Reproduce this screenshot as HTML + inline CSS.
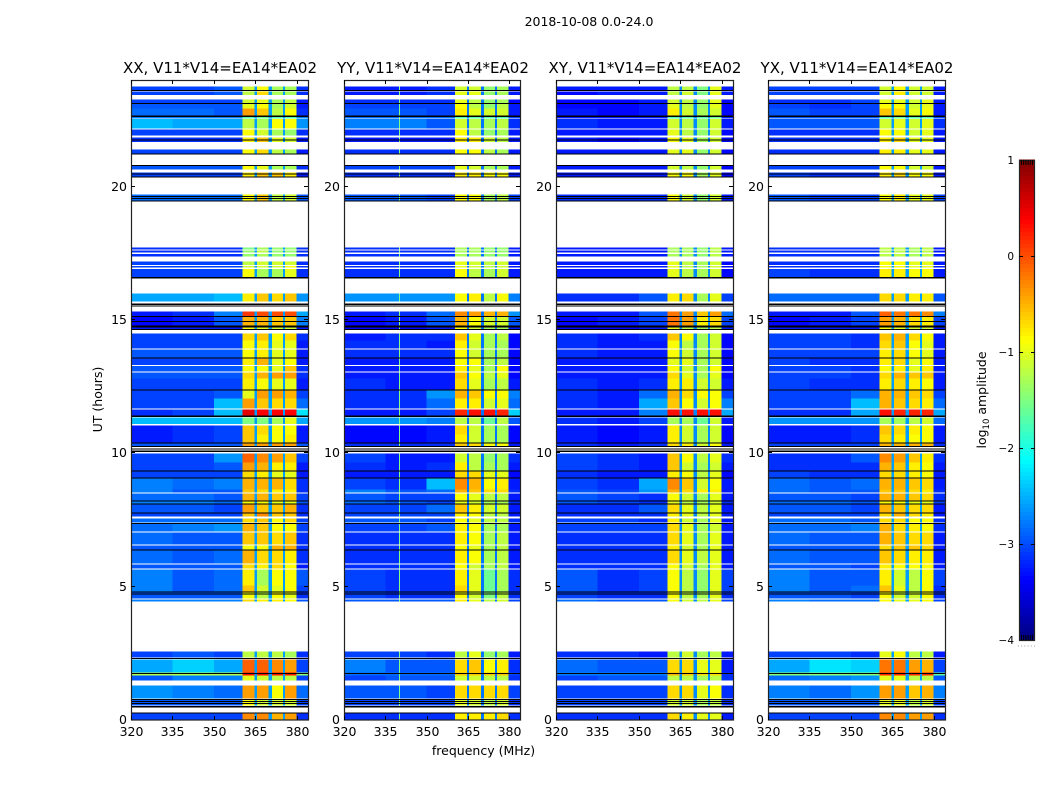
<!DOCTYPE html>
<html>
<head>
<meta charset="utf-8">
<title>2018-10-08 0.0-24.0</title>
<style>
html,body{margin:0;padding:0;background:#fff;width:1050px;height:800px;overflow:hidden}
svg{display:block}
text{font-family:"DejaVu Sans","Liberation Sans",sans-serif;fill:#000}
</style>
</head>
<body>
<svg id="chart" width="1050" height="800" viewBox="0 0 1050 800" xmlns="http://www.w3.org/2000/svg">
  <text x="589" y="26" font-size="12.5" text-anchor="middle">2018-10-08 0.0-24.0</text>
  <text x="220" y="73" font-size="15" text-anchor="middle">XX, V11*V14=EA14*EA02</text>
  <text x="433" y="73" font-size="15" text-anchor="middle">YY, V11*V14=EA14*EA02</text>
  <text x="645" y="73" font-size="15" text-anchor="middle">XY, V11*V14=EA14*EA02</text>
  <text x="857" y="73" font-size="15" text-anchor="middle">YX, V11*V14=EA14*EA02</text>
  <text transform="translate(102,399.5) rotate(-90)" font-size="12.5" text-anchor="middle">UT (hours)</text>
  <text x="483.5" y="755" font-size="12.5" text-anchor="middle">frequency (MHz)</text>
  <text transform="translate(986,400) rotate(-90)" font-size="12.5" text-anchor="middle">log<tspan font-size="8.5" dy="3">10</tspan><tspan dy="-3"> amplitude</tspan></text>
</svg>
<script>
// ---- data ----
const freqEdges = [320,335,350,360.4,364.7,365.5,369.8,370.9,374.9,375.6,379.9,384];
const gapLevels = [-2.6,-2.8,-2.7,-2.6];
const backgroundCalibration = -0.25;
const xTickValues = [320,335,350,365,380];
const yTickValues = [0,5,10,15,20];
const colorbarTicks = [1,0,-1,-2,-3,-4];
const colorbarTickLabels = ['1','0','\u22121','\u22122','\u22123','\u22124'];
const rfiFreq = [340];
const rfiLevel = [-1.5];
const rowTop = [23.76,23.57,23.27,23.12,22.93,22.63,22.54,22.14,21.84,21.39,20.79,20.53,19.71,17.72,17.61,17.48,17.19,17.03,16.91,16.00,15.32,15.11,14.72,14.49,14.23,13.89,13.56,13.28,13.03,12.81,12.36,12.06,11.65,11.35,11.04,10.71,10.37,9.99,9.66,9.32,9.06,8.65,8.49,8.20,8.08,7.75,7.56,7.37,7.03,6.55,6.36,5.83,5.65,5.05,4.78,4.52,2.57,2.27,1.78,1.67,1.29,0.77,0.25];
const rowBottom = [23.60,23.44,23.12,22.93,22.63,22.56,22.18,21.92,21.67,21.22,20.64,20.36,19.46,17.64,17.53,17.39,17.07,16.96,16.61,15.69,15.13,14.79,14.62,14.23,13.93,13.59,13.31,13.07,12.81,12.39,12.06,11.68,11.38,11.10,10.71,10.39,10.25,9.66,9.36,9.10,8.65,8.53,8.23,8.10,7.78,7.64,7.41,7.07,6.58,6.40,5.87,5.68,5.05,4.82,4.56,4.45,2.35,1.78,1.67,1.48,0.80,0.54,0.0];
const flaggedStart = [23.58,23.10,22.62,21.73,21.20,20.79,20.45,20.34,19.62,19.53,19.44,16.55,15.56,15.50,15.12,14.92,14.72,14.63,13.55,12.36,11.36,10.36,10.25,10.14,10.05,9.32,9.06,8.20,8.08,7.75,7.36,6.36,4.78,4.70,2.29,1.72,0.76,0.69,0.61,0.47,0.26];
const flaggedEnd = [23.62,23.13,22.66,21.77,21.24,20.82,20.49,20.38,19.65,19.57,19.48,16.61,15.61,15.54,15.15,14.96,14.79,14.66,13.60,12.40,11.41,10.40,10.27,10.18,10.10,9.35,9.09,8.24,8.11,7.78,7.39,6.40,4.81,4.74,2.33,1.77,0.78,0.71,0.63,0.52,0.29];
// each row: 320-335, 335-350, 350-360, window1..window4, 380-384 (log10 amplitude)
const xxValues = [
[-2.8,-2.8,-2.7,-1.1,-0.9,-1.3,-1.3,-2.9],[-2.8,-2.8,-2.7,-1.2,-0.7,-1.3,-1.3,-2.9],[-2.8,-2.8,-2.8,-1.1,-1.0,-1.3,-1.2,-3.0],[-2.7,-2.7,-2.7,-1.0,-0.9,-1.3,-1.1,-3.0],
[-2.6,-2.6,-2.7,-0.4,-0.6,-1.2,-0.9,-2.9],[-2.5,-2.5,-2.5,-1.7,-1.6,-1.7,-1.7,-2.5],[-2.2,-2.3,-2.3,-1.2,-1.3,-0.9,-0.9,-2.4],[-2.8,-2.8,-2.8,-0.9,-1.1,-1.3,-1.4,-2.9],
[-2.9,-2.9,-2.9,-0.8,-0.6,-1.0,-1.1,-3.0],[-2.8,-2.8,-2.8,-0.9,-0.7,-1.2,-1.3,-3.0],[-2.7,-2.7,-2.7,-0.9,-1.0,-1.3,-1.3,-2.9],[-2.8,-2.8,-2.8,-0.8,-0.6,-0.6,-0.8,-3.0],
[-2.6,-2.6,-2.6,-0.9,-0.6,-1.2,-1.1,-2.7],[-2.9,-2.9,-2.9,-1.5,-1.3,-1.4,-1.4,-2.9],[-2.9,-2.9,-2.9,-1.4,-1.2,-1.4,-1.4,-2.9],[-2.9,-2.9,-2.9,-1.4,-1.3,-1.4,-1.4,-2.9],
[-2.8,-2.8,-2.8,-1.2,-1.1,-1.1,-1.1,-2.9],[-2.8,-2.8,-2.8,-1.1,-1.1,-1.1,-0.9,-2.9],[-2.8,-2.8,-2.8,-0.9,-1.3,-1.3,-1.0,-2.9],[-2.3,-2.3,-2.2,-0.8,-0.6,-0.7,-0.6,-2.4],
[-3.0,-2.9,-2.5,0.1,0.0,0.0,0.0,-2.3],[-3.1,-3.0,-2.7,-0.5,-0.5,-0.6,-0.6,-2.5],[-3.0,-3.0,-3.0,-0.9,-1.0,-1.1,-1.1,-3.0],[-2.8,-2.8,-2.8,-0.7,-0.6,-0.9,-0.7,-2.9],
[-2.8,-2.8,-2.8,-0.9,-0.8,-1.0,-1.0,-3.0],[-2.7,-2.7,-2.7,-0.9,-0.8,-1.0,-1.0,-3.0],[-2.8,-2.8,-2.8,-0.8,-0.5,-1.0,-0.9,-3.0],[-2.7,-2.7,-2.7,-0.9,-0.9,-1.0,-0.6,-2.9],
[-2.7,-2.7,-2.7,-0.7,-0.5,-0.4,-0.4,-2.9],[-2.8,-2.8,-2.8,-0.8,-0.9,-1.0,-1.0,-3.0],[-2.8,-2.8,-2.7,-1.0,-0.4,-0.4,-0.5,-2.8],[-2.8,-2.8,-2.2,-0.4,-0.6,-0.7,-0.7,-2.6],
[-2.9,-2.8,-2.2,0.5,0.4,0.4,0.4,-2.0],[-2.2,-2.2,-2.2,-1.5,-1.5,-1.3,-1.0,-2.3],[-3.0,-2.9,-2.8,-0.6,-0.7,-0.9,-0.9,-3.0],[-3.0,-2.9,-2.8,-0.6,-0.8,-0.9,-0.8,-3.0],
[-2.7,-2.7,-2.7,-0.4,-0.4,-0.4,-0.4,-2.7],[-2.8,-2.8,-2.4,-0.1,-0.3,-0.4,-0.6,-2.8],[-2.8,-2.8,-2.7,-0.4,-0.5,-0.8,-0.8,-3.0],[-2.8,-2.8,-2.8,-0.7,-0.8,-1.0,-1.0,-3.0],
[-2.5,-2.6,-2.5,-0.5,-0.5,-0.5,-0.7,-2.9],[-2.5,-2.7,-2.7,-0.6,-0.7,-0.8,-0.8,-2.9],[-2.6,-2.6,-2.7,-0.5,-0.5,-0.6,-0.6,-2.8],[-2.5,-2.5,-2.6,-0.9,-0.9,-1.0,-1.0,-2.7],
[-2.7,-2.7,-2.8,-0.4,-0.6,-0.6,-0.5,-2.9],[-2.8,-2.8,-2.8,-0.6,-0.3,-0.6,-0.6,-2.9],[-2.6,-2.6,-2.6,-0.7,-0.6,-0.9,-0.7,-2.8],[-2.6,-2.5,-2.4,-0.5,-0.6,-0.9,-0.9,-2.8],
[-2.6,-2.7,-2.7,-0.6,-0.6,-0.7,-0.6,-2.9],[-2.7,-2.7,-2.7,-0.9,-0.9,-0.5,-0.5,-2.9],[-2.6,-2.7,-2.6,-0.5,-0.7,-0.7,-0.8,-2.9],[-2.7,-2.7,-2.7,-0.7,-0.8,-0.7,-0.9,-3.0],
[-2.5,-2.7,-2.6,-0.8,-1.3,-0.9,-0.9,-2.7],[-2.5,-2.7,-2.6,-0.6,-1.1,-1.0,-0.9,-2.8],[-2.7,-2.7,-2.7,-0.9,-1.2,-0.9,-1.0,-2.9],[-2.5,-2.5,-2.5,-0.7,-0.8,-0.8,-0.9,-2.7],
[-2.8,-2.7,-2.8,-1.2,-1.2,-1.2,-1.3,-2.9],[-2.3,-2.1,-2.3,-0.1,-0.1,-0.3,-0.4,-2.8],[-1.0,-1.0,-1.0,0.3,0.3,0.3,0.3,-1.2],[-2.7,-2.5,-2.5,-1.0,-1.1,-1.2,-1.2,-2.8],
[-2.4,-2.5,-2.6,-0.4,-0.4,-0.9,-0.4,-2.6],[-2.7,-2.7,-2.7,-0.9,-1.1,-1.1,-1.1,-2.8],[-2.8,-2.8,-2.8,-0.3,-0.3,-0.5,-0.4,-2.9]];
const yyValues = [
[-3.0,-3.0,-2.9,-1.1,-1.1,-1.4,-1.3,-3.0],[-3.0,-3.0,-2.9,-1.0,-1.0,-1.4,-1.3,-3.0],[-2.9,-2.9,-2.9,-1.0,-1.2,-1.4,-1.3,-3.1],[-2.8,-2.8,-2.8,-0.9,-1.2,-1.4,-1.2,-3.0],
[-2.7,-2.7,-2.8,-0.8,-1.0,-1.1,-1.1,-3.0],[-2.6,-2.6,-2.6,-1.7,-1.7,-1.7,-1.7,-2.8],[-2.5,-2.5,-2.7,-1.1,-1.2,-1.3,-1.2,-2.9],[-2.9,-2.9,-2.9,-0.9,-1.2,-1.4,-1.3,-3.0],
[-3.0,-3.0,-3.0,-0.8,-0.8,-1.1,-1.2,-3.0],[-2.9,-2.9,-2.9,-0.9,-0.9,-1.2,-1.3,-3.0],[-2.8,-2.8,-2.8,-1.0,-1.1,-1.3,-1.3,-3.0],[-2.9,-2.9,-2.9,-0.8,-0.8,-0.9,-0.9,-3.0],
[-2.7,-2.7,-2.8,-0.9,-0.9,-1.3,-1.2,-2.8],[-2.9,-2.9,-2.9,-1.3,-1.3,-1.4,-1.4,-3.0],[-2.9,-2.9,-2.9,-1.3,-1.3,-1.4,-1.4,-3.0],[-2.9,-2.9,-2.9,-1.3,-1.3,-1.4,-1.4,-3.0],
[-2.9,-2.9,-2.9,-1.0,-1.1,-1.2,-1.1,-3.0],[-2.9,-2.9,-2.9,-1.0,-1.1,-1.2,-1.1,-3.0],[-2.9,-2.9,-2.9,-0.9,-1.2,-1.3,-1.1,-3.0],[-2.4,-2.4,-2.4,-0.9,-0.8,-1.2,-0.9,-2.5],
[-3.0,-2.9,-2.6,-0.3,-0.4,-0.5,-0.5,-2.4],[-3.1,-3.0,-2.7,-0.5,-0.9,-1.1,-1.1,-2.7],[-3.1,-3.1,-3.0,-0.9,-1.1,-1.3,-1.3,-3.0],[-3.0,-2.9,-2.9,-0.6,-1.0,-1.3,-1.2,-3.1],
[-2.9,-2.9,-3.0,-0.8,-1.1,-1.3,-1.3,-3.1],[-2.9,-2.9,-2.9,-0.9,-1.1,-1.3,-1.3,-3.1],[-3.0,-3.0,-3.0,-0.9,-0.9,-1.3,-1.2,-3.1],[-3.0,-3.0,-3.0,-0.8,-1.0,-1.3,-0.9,-3.1],
[-3.0,-3.0,-3.0,-0.6,-0.9,-1.2,-1.0,-3.1],[-2.9,-3.0,-3.0,-0.7,-1.0,-1.3,-1.2,-3.0],[-2.9,-2.9,-2.4,-0.5,-0.6,-0.9,-0.9,-2.5],[-2.9,-2.9,-2.6,-0.8,-0.8,-1.1,-1.0,-2.6],
[-3.0,-3.0,-2.8,0.2,0.3,0.3,0.2,-2.1],[-2.4,-2.4,-2.5,-1.2,-1.2,-1.6,-1.2,-2.7],[-3.1,-3.1,-3.0,-0.7,-1.1,-1.3,-1.3,-3.1],[-3.1,-3.1,-3.0,-0.8,-1.1,-1.3,-1.3,-3.1],
[-2.9,-2.9,-2.9,-0.6,-0.7,-0.9,-0.9,-3.0],[-2.8,-3.0,-3.0,-1.1,-1.2,-1.4,-1.3,-2.9],[-2.9,-3.0,-2.9,-0.8,-1.2,-1.3,-1.3,-3.0],[-3.0,-3.0,-3.0,-0.7,-0.7,-1.0,-1.0,-3.1],
[-2.8,-2.9,-2.2,-0.3,-0.5,-0.9,-0.8,-3.0],[-2.5,-2.7,-2.6,-0.5,-0.6,-0.7,-0.7,-2.9],[-2.7,-2.8,-2.8,-0.9,-1.0,-1.2,-1.2,-3.0],[-2.6,-2.7,-2.8,-1.0,-1.1,-1.3,-1.3,-2.9],
[-2.8,-2.8,-2.6,-0.6,-0.8,-1.1,-1.1,-3.0],[-2.8,-2.8,-2.8,-0.8,-0.9,-1.2,-1.2,-3.0],[-2.7,-2.7,-2.8,-0.9,-1.0,-1.2,-1.2,-2.9],[-2.8,-2.8,-2.7,-0.8,-0.9,-1.3,-1.3,-3.0],
[-2.9,-2.9,-2.9,-0.8,-0.9,-1.3,-1.2,-3.0],[-2.9,-2.9,-2.9,-0.9,-1.0,-1.3,-1.2,-3.0],[-2.9,-2.9,-2.9,-0.8,-0.9,-1.3,-1.2,-3.0],[-2.9,-2.9,-2.9,-0.9,-1.1,-1.3,-1.2,-3.0],
[-2.8,-2.9,-2.9,-0.8,-1.0,-1.6,-1.3,-2.9],[-2.8,-2.9,-2.9,-0.7,-1.0,-1.6,-1.3,-2.9],[-2.8,-2.9,-2.9,-0.9,-1.1,-1.5,-1.2,-2.9],[-2.7,-2.7,-2.7,-0.8,-1.0,-1.2,-1.1,-2.8],
[-2.8,-2.8,-2.9,-1.2,-1.0,-1.4,-1.3,-3.0],[-2.5,-2.7,-2.7,-0.7,-0.6,-0.9,-0.8,-2.9],[-2.6,-2.6,-2.6,-0.6,-0.6,-0.6,-0.6,-2.8],[-2.8,-2.7,-2.7,-1.1,-1.1,-1.2,-1.2,-2.9],
[-2.7,-2.7,-2.8,-0.7,-0.7,-0.7,-0.7,-2.8],[-2.8,-2.8,-2.8,-1.0,-1.1,-1.2,-1.1,-2.9],[-2.9,-2.9,-2.9,-0.8,-0.8,-0.8,-0.7,-2.9]];
const xyValues = [
[-3.0,-3.0,-3.0,-1.2,-1.2,-1.5,-1.0,-3.0],[-3.1,-3.0,-3.0,-1.2,-1.1,-1.5,-1.0,-3.0],[-3.1,-3.1,-3.0,-1.1,-1.2,-1.4,-1.0,-3.1],[-3.1,-3.1,-3.0,-1.0,-1.2,-1.4,-1.0,-3.1],
[-3.0,-3.1,-3.0,-0.8,-1.1,-1.3,-1.1,-3.1],[-3.0,-3.0,-3.0,-1.7,-1.7,-1.7,-1.6,-3.0],[-2.9,-3.0,-3.0,-1.1,-1.2,-1.4,-1.1,-3.0],[-3.0,-3.0,-3.0,-1.0,-1.2,-1.4,-1.1,-3.1],
[-3.0,-3.1,-3.0,-0.9,-1.0,-1.3,-1.1,-3.1],[-3.0,-3.0,-3.0,-1.0,-1.0,-1.4,-1.1,-3.1],[-3.0,-3.0,-3.0,-1.1,-1.2,-1.4,-1.1,-3.1],[-3.0,-3.0,-3.0,-0.9,-0.9,-1.3,-1.0,-3.1],
[-2.9,-2.9,-2.9,-0.9,-1.1,-1.4,-1.1,-3.0],[-3.0,-3.0,-3.0,-1.3,-1.3,-1.4,-1.2,-3.0],[-3.0,-3.0,-3.0,-1.3,-1.3,-1.4,-1.2,-3.0],[-3.0,-3.0,-3.0,-1.3,-1.3,-1.4,-1.2,-3.0],
[-3.0,-3.0,-3.0,-1.0,-1.2,-1.3,-1.1,-3.1],[-3.0,-3.0,-3.0,-1.0,-1.2,-1.3,-1.1,-3.1],[-3.0,-3.0,-3.0,-1.0,-1.2,-1.3,-1.1,-3.1],[-2.9,-2.9,-2.7,-0.8,-0.7,-1.3,-1.0,-2.8],
[-3.0,-3.0,-2.7,-0.2,-0.4,-0.6,-0.4,-2.6],[-3.1,-3.0,-2.8,-0.2,-0.4,-0.8,-0.7,-2.8],[-3.1,-3.1,-3.0,-1.0,-1.2,-1.3,-1.2,-3.0],[-2.9,-3.0,-2.9,-0.6,-0.9,-1.3,-1.1,-3.1],
[-2.9,-3.0,-3.0,-0.9,-1.2,-1.3,-1.1,-3.1],[-2.9,-3.0,-3.0,-0.9,-1.1,-1.3,-1.1,-3.1],[-3.0,-3.0,-3.0,-1.0,-1.0,-1.3,-1.1,-3.1],[-3.0,-3.0,-3.0,-0.9,-1.1,-1.3,-0.9,-3.1],
[-3.0,-3.0,-3.0,-0.7,-1.0,-1.3,-1.0,-3.1],[-2.9,-3.0,-2.9,-0.8,-0.8,-1.1,-1.1,-3.0],[-2.9,-3.0,-2.6,-0.5,-0.7,-0.9,-0.9,-2.8],[-2.9,-3.0,-2.3,-0.6,-0.9,-1.1,-0.9,-2.5],
[-3.0,-3.0,-2.5,0.3,0.3,0.3,0.3,-2.3],[-2.9,-3.0,-2.8,-1.3,-1.3,-1.6,-1.1,-3.0],[-3.0,-3.1,-3.0,-0.8,-1.1,-1.3,-1.1,-3.1],[-3.0,-3.1,-3.0,-0.8,-1.1,-1.3,-1.1,-3.1],
[-2.9,-3.0,-2.9,-0.7,-0.8,-1.1,-0.9,-3.0],[-2.8,-2.9,-3.0,-0.6,-0.9,-1.2,-1.0,-2.9],[-2.8,-2.9,-3.0,-0.6,-1.1,-1.3,-1.1,-3.0],[-2.9,-3.0,-3.0,-0.8,-0.9,-1.2,-1.0,-3.1],
[-2.8,-2.9,-2.3,-0.3,-0.6,-1.1,-0.9,-3.0],[-2.7,-2.8,-2.4,-0.5,-0.7,-0.8,-0.8,-3.0],[-2.7,-2.8,-2.9,-0.9,-1.1,-1.3,-1.0,-3.0],[-2.7,-2.8,-2.9,-1.0,-1.2,-1.3,-1.1,-2.9],
[-2.9,-2.9,-2.7,-0.7,-1.0,-1.2,-1.0,-3.0],[-2.9,-2.9,-2.9,-0.8,-1.0,-1.2,-1.0,-3.0],[-2.8,-2.8,-2.9,-0.8,-1.1,-1.3,-1.0,-3.0],[-2.8,-2.8,-2.8,-0.7,-1.0,-1.3,-1.1,-3.0],
[-2.9,-2.9,-2.9,-0.7,-1.0,-1.3,-1.0,-3.0],[-2.9,-2.9,-2.9,-0.8,-1.1,-1.3,-1.0,-3.0],[-2.9,-2.9,-2.9,-0.7,-1.0,-1.2,-1.0,-3.0],[-2.9,-2.9,-2.9,-0.9,-1.1,-1.3,-1.0,-3.0],
[-2.7,-2.9,-2.8,-0.9,-1.2,-1.4,-1.0,-2.8],[-2.7,-2.9,-2.8,-0.9,-1.2,-1.4,-1.0,-2.8],[-2.8,-2.9,-2.9,-0.9,-1.2,-1.3,-1.0,-2.9],[-2.6,-2.7,-2.7,-0.9,-1.1,-1.2,-1.0,-2.8],
[-2.9,-2.9,-3.0,-1.2,-1.1,-1.3,-1.2,-3.0],[-2.6,-2.7,-2.7,-0.7,-0.7,-1.0,-1.0,-3.0],[-2.5,-2.5,-2.5,-0.5,-0.6,-0.7,-0.7,-2.9],[-2.8,-2.7,-2.7,-1.2,-1.2,-1.3,-1.2,-2.9],
[-2.8,-2.8,-2.8,-0.7,-0.7,-1.0,-0.9,-2.9],[-2.8,-2.8,-2.8,-1.1,-1.1,-1.3,-1.2,-2.9],[-2.9,-2.9,-2.9,-0.7,-0.8,-1.0,-1.0,-3.0]];
const yxValues = [
[-2.8,-2.8,-2.8,-1.1,-0.9,-1.1,-1.1,-3.0],[-2.8,-2.8,-2.8,-1.1,-0.8,-1.1,-1.1,-3.0],[-2.9,-2.9,-2.8,-1.0,-1.0,-1.1,-1.0,-3.0],[-2.8,-2.9,-2.8,-0.9,-0.9,-1.1,-1.0,-3.0],
[-2.7,-2.8,-2.8,-0.6,-0.7,-1.0,-0.9,-3.0],[-2.7,-2.7,-2.7,-1.7,-1.6,-1.7,-1.7,-2.8],[-2.7,-2.7,-2.7,-1.1,-1.0,-1.1,-1.0,-2.9],[-2.9,-2.9,-2.9,-0.9,-0.9,-1.1,-1.0,-3.0],
[-2.9,-2.9,-2.9,-0.8,-0.7,-1.0,-1.0,-3.0],[-2.9,-2.9,-2.9,-0.8,-0.8,-1.0,-1.0,-3.0],[-2.8,-2.8,-2.8,-0.9,-0.9,-1.1,-1.1,-3.0],[-2.8,-2.9,-2.9,-0.8,-0.7,-0.9,-0.9,-3.0],
[-2.7,-2.8,-2.8,-0.9,-0.8,-1.0,-1.0,-2.8],[-2.9,-2.9,-2.9,-1.2,-1.2,-1.3,-1.2,-3.0],[-2.9,-2.9,-2.9,-1.2,-1.2,-1.3,-1.2,-3.0],[-2.9,-2.9,-2.9,-1.2,-1.2,-1.3,-1.2,-3.0],
[-2.9,-2.9,-2.9,-0.9,-0.9,-1.0,-1.0,-3.0],[-2.9,-2.9,-2.9,-0.9,-0.9,-1.0,-1.0,-3.0],[-2.8,-2.9,-2.9,-0.8,-0.8,-0.9,-0.9,-3.0],[-2.6,-2.6,-2.6,-0.7,-0.7,-0.8,-0.8,-2.7],
[-3.0,-3.0,-2.7,-0.1,-0.2,-0.2,-0.3,-2.5],[-3.1,-3.0,-2.8,-0.4,-0.5,-0.7,-0.8,-2.8],[-3.0,-3.0,-3.0,-0.9,-1.0,-1.1,-1.1,-3.0],[-2.8,-2.8,-2.9,-0.6,-0.5,-0.7,-0.9,-3.0],
[-2.8,-2.8,-2.9,-0.7,-0.6,-0.9,-1.0,-3.0],[-2.8,-2.8,-2.8,-0.8,-0.7,-0.9,-1.0,-3.0],[-2.8,-2.9,-2.9,-0.8,-0.7,-1.0,-0.9,-3.0],[-2.8,-2.8,-2.9,-0.9,-0.8,-1.0,-0.8,-3.0],
[-2.8,-2.8,-2.9,-0.7,-0.5,-0.6,-0.6,-3.0],[-2.8,-2.9,-2.9,-0.8,-0.7,-0.8,-0.9,-3.0],[-2.8,-2.8,-2.6,-0.5,-0.5,-0.6,-0.7,-2.8],[-2.8,-2.8,-2.2,-0.5,-0.6,-0.7,-0.8,-2.6],
[-2.9,-2.9,-2.3,0.3,0.2,0.2,0.2,-2.3],[-2.4,-2.4,-2.4,-1.3,-1.3,-1.2,-1.1,-2.6],[-3.0,-3.0,-2.9,-0.6,-0.7,-0.8,-0.9,-3.0],[-3.0,-3.0,-2.9,-0.7,-0.8,-0.9,-0.9,-3.0],
[-2.8,-2.8,-2.8,-0.5,-0.5,-0.5,-0.5,-2.9],[-2.9,-2.9,-2.7,-0.3,-0.4,-0.6,-0.8,-2.9],[-2.9,-2.9,-2.9,-0.5,-0.6,-0.8,-0.9,-3.0],[-2.8,-2.9,-2.9,-0.7,-0.7,-0.8,-0.9,-3.0],
[-2.6,-2.7,-2.6,-0.5,-0.5,-0.6,-0.7,-3.0],[-2.6,-2.7,-2.7,-0.6,-0.6,-0.7,-0.8,-2.9],[-2.7,-2.7,-2.8,-0.5,-0.5,-0.6,-0.7,-2.9],[-2.6,-2.6,-2.7,-0.9,-0.9,-1.0,-1.0,-2.8],
[-2.7,-2.7,-2.8,-0.5,-0.6,-0.7,-0.7,-3.0],[-2.8,-2.8,-2.8,-0.7,-0.5,-0.7,-0.8,-3.0],[-2.6,-2.6,-2.7,-0.7,-0.7,-0.9,-0.9,-2.9],[-2.6,-2.6,-2.5,-0.5,-0.7,-0.8,-0.9,-2.9],
[-2.6,-2.7,-2.7,-0.5,-0.6,-0.7,-0.7,-3.0],[-2.7,-2.7,-2.7,-0.7,-0.6,-0.6,-0.7,-3.0],[-2.6,-2.7,-2.7,-0.6,-0.7,-0.8,-0.8,-3.0],[-2.7,-2.7,-2.8,-0.8,-0.9,-0.9,-0.9,-3.0],
[-2.5,-2.7,-2.7,-0.8,-1.1,-1.2,-0.9,-2.8],[-2.5,-2.7,-2.6,-0.6,-1.0,-1.2,-0.9,-2.9],[-2.7,-2.7,-2.8,-0.9,-1.1,-1.1,-0.9,-2.9],[-2.5,-2.6,-2.6,-0.9,-1.0,-1.0,-0.9,-2.8],
[-2.8,-2.8,-2.9,-1.0,-0.9,-1.2,-1.2,-3.0],[-2.3,-2.0,-2.1,-0.2,-0.2,-0.4,-0.5,-2.8],[-1.2,-1.2,-1.2,0.2,0.2,0.2,0.2,-1.4],[-2.6,-2.5,-2.4,-1.0,-1.0,-1.2,-1.2,-2.7],
[-2.5,-2.6,-2.4,-0.4,-0.4,-0.6,-0.5,-2.5],[-2.7,-2.7,-2.7,-1.0,-1.0,-1.2,-1.1,-2.8],[-2.8,-2.8,-2.8,-0.3,-0.3,-0.4,-0.4,-2.9]];
const panelNames = ['xx','yy','xy','yx'];
const panelValues = [xxValues,yyValues,xyValues,yxValues];

// ---- layout ----
const SVGNS = 'http://www.w3.org/2000/svg';
const svg = document.getElementById('chart');
const panelLeft = [131,344,556,768];
const panelWidths = [177,176,177,177];
const plotTop = 80;
const plotBottom = 720;
const xScale = (left, width, mhz) => left + (mhz - 320) / (384 - 320) * width;
const yScale = hour => plotBottom - hour / 24 * (plotBottom - plotTop);
const cbTop = 160, cbBottom = 640, cbLeft = 1019, cbRight = 1034;
const cbScale = v => cbBottom - (v + 4) / 5 * (cbBottom - cbTop);

function jet(v){
  const t = Math.max(0, Math.min(1, (v + 4) / 5));
  const ramp = (x) => Math.max(0, Math.min(1, x));
  const r = ramp(Math.min(4 * t - 1.5, -4 * t + 4.5));
  const g = ramp(Math.min(4 * t - 0.5, -4 * t + 3.5));
  const b = ramp(Math.min(4 * t + 0.5, -4 * t + 2.5));
  return 'rgb(' + Math.round(r * 255) + ',' + Math.round(g * 255) + ',' + Math.round(b * 255) + ')';
}
function shape(tag, attrs){
  const el = document.createElementNS(SVGNS, tag);
  for (const k in attrs) el.setAttribute(k, attrs[k]);
  svg.appendChild(el);
  return el;
}
function tickLine(x1, y1, x2, y2){
  const el = shape('line', {x1:x1, y1:y1, x2:x2, y2:y2, stroke:'#000', 'stroke-width':1});
  
  
  return el;
}
function label(x, y, str, anchor, size){
  const el = shape('text', {x:x, y:y, 'font-size':size, 'text-anchor':anchor});
  el.textContent = str;
  
  
  return el;
}

panelValues.forEach((values, p) => {
  const left = panelLeft[p];
  const panelWidth = panelWidths[p];
  const group = document.createElementNS(SVGNS, 'g');
  
  
  group.setAttribute('shape-rendering', 'crispEdges');
  svg.appendChild(group);
  values.forEach((row, r) => {
    const y0 = yScale(rowTop[r]);
    const y1 = yScale(rowBottom[r]);
    const bg = backgroundCalibration;
    const cols = [row[0]+bg,row[1]+bg,row[2]+bg,row[3],gapLevels[p],row[4],gapLevels[p],row[5],gapLevels[p],row[6],row[7]+bg];
    cols.forEach((v, c) => {
      const x0 = xScale(left, panelWidth, freqEdges[c]);
      const x1 = xScale(left, panelWidth, freqEdges[c + 1]);
      const cell = document.createElementNS(SVGNS, 'rect');
      cell.setAttribute('x', x0.toFixed(2));
      cell.setAttribute('y', y0.toFixed(2));
      cell.setAttribute('width', (x1 - x0).toFixed(2));
      cell.setAttribute('height', (y1 - y0).toFixed(2));
      cell.setAttribute('fill', jet(v));
      
      
      group.appendChild(cell);
    });
    if (p === 1) {
      const x = xScale(left, panelWidth, rfiFreq[0]);
      const line = document.createElementNS(SVGNS, 'rect');
      line.setAttribute('x', x.toFixed(2));
      line.setAttribute('y', y0.toFixed(2));
      line.setAttribute('width', 1);
      line.setAttribute('height', (y1 - y0).toFixed(2));
      line.setAttribute('fill', jet(rfiLevel[0]));
      
      
      group.appendChild(line);
    }
  });
  flaggedStart.forEach((h, i) => {
    const y0 = yScale(flaggedEnd[i]);
    const y1 = yScale(h);
    const bar = document.createElementNS(SVGNS, 'rect');
    bar.setAttribute('x', left);
    bar.setAttribute('y', y0.toFixed(2));
    bar.setAttribute('width', panelWidth);
    bar.setAttribute('height', Math.max(1, y1 - y0).toFixed(2));
    bar.setAttribute('fill', '#000');
    
    
    group.appendChild(bar);
  });
  const frame = shape('rect', {x:left + .5, y:plotTop + .5, width:panelWidth, height:plotBottom - plotTop - .5, fill:'none', stroke:'#222', 'stroke-width':1.2});
  
  
  xTickValues.forEach(v => {
    const x = Math.round(xScale(left, panelWidth, v)) + .5;
    tickLine(x, plotBottom, x, plotBottom - 4);
    tickLine(x, plotTop, x, plotTop + 4);
    label(x, plotBottom + 16, String(v), 'middle', 12.5);
  });
  yTickValues.forEach(v => {
    const y = Math.round(yScale(v)) - .5;
    if (v !== 0) {
      tickLine(left, y, left + 4, y);
      tickLine(left + panelWidth, y, left + panelWidth - 4, y);
    }
    label(left - 4, y + 4.5, String(v), 'end', 12.5);
  });
});

// ---- colorbar ----
const cbGroup = document.createElementNS(SVGNS, 'g');


cbGroup.setAttribute('shape-rendering', 'crispEdges');
svg.appendChild(cbGroup);
for (let i = 0; i < 120; i++) {
  const v = -4 + (i + .5) / 120 * 5;
  const step = document.createElementNS(SVGNS, 'rect');
  step.setAttribute('x', cbLeft);
  step.setAttribute('y', (cbScale(v) - 2.5).toFixed(2));
  step.setAttribute('width', cbRight - cbLeft + 1);
  step.setAttribute('height', 4.5);
  step.setAttribute('fill', jet(v));
  
  
  cbGroup.appendChild(step);
}
const cbFrame = shape('rect', {x:cbLeft + .5, y:cbTop + .5, width:cbRight - cbLeft, height:cbBottom - cbTop, fill:'none', stroke:'#222', 'stroke-width':1.2});


colorbarTicks.forEach((v, i) => {
  const y = Math.round(cbScale(v)) + .5;
  if (v !== 1 && v !== -4) {
    tickLine(cbLeft, y, cbLeft + 4, y);
    tickLine(cbRight + 1, y, cbRight - 3, y);
  }
  label(1014, y + 3.5, colorbarTickLabels[i], 'end', 10.5);
});
for (let i = 0; i < 6; i++) {
  const x = cbLeft + 2.5 + i * 2.2;
  tickLine(x, cbTop, x, cbTop + 5);
  tickLine(x, cbBottom, x, cbBottom - 5);
  const dot = shape('rect', {x:cbLeft - 1 + i * 3.2, y:645.5, width:1, height:1, fill:'#999'});
  
  
}
</script>
</body>
</html>
